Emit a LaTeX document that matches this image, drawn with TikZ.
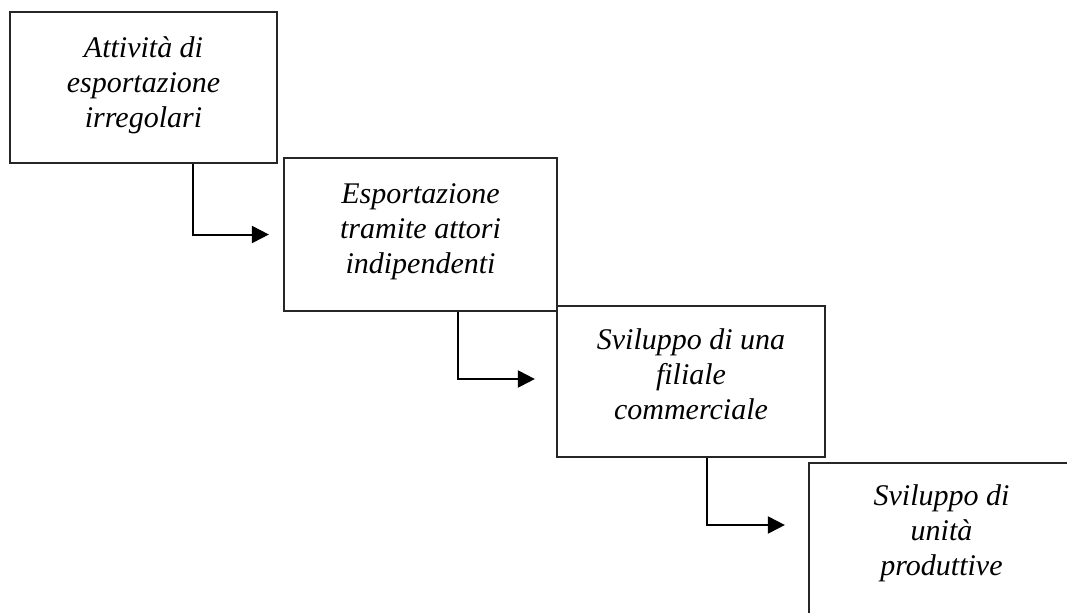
\documentclass[tikz,border=0pt]{standalone}
\usepackage{fontspec}
\setmainfont{Liberation Serif}
\usetikzlibrary{arrows.meta}
\tikzset{
    stage/.style={
        rectangle,
        draw=black!85,
        line width=1.1pt,
        minimum width=133.5pt,
        minimum height=75.5pt,
        inner sep=0pt
    },
    caption/.style={
        align=center,
        font=\fontsize{15}{17.5}\selectfont\itshape
    },
    arrow/.style={
        line width=1pt,-{Triangle[length=8.5pt,width=8.5pt]}
    }
}

\begin{document}
\begin{tikzpicture}[x=0.5pt,y=-0.5pt]

\clip (0,0) rectangle (1067,612);
\fill [white] (0,0) rectangle (1067,612);

\node (stage1) [stage] at (143.5,87.5) {};
\node (stage2) [stage, minimum width=136.5pt, minimum height=76.5pt] at (420.5,234.5) {};
\node (stage3) [stage, minimum width=134pt] at (691,381.5) {};
\node (stage4) [stage, minimum width=132.5pt] at (941.5,538.5) {};

\node (text1) [caption] at ([yshift=1pt]stage1.center) {Attività di\\esportazione\\irregolari};
\node (text2) [caption] at ([yshift=1.5pt]stage2.center) {Esportazione\\tramite attori\\indipendenti};
\node (text3) [caption] at ([yshift=3.5pt]stage3.center) {Sviluppo di una\\filiale\\commerciale};
\node (text4) [caption] at ([yshift=2.5pt]stage4.center) {Sviluppo di\\unità\\produttive};

\draw [arrow] ([xshift=24.75pt]stage1.south) |- ([xshift=-7pt]stage2.west);
\draw [arrow] ([xshift=18.75pt]stage2.south) |- ([xshift=-10.5pt,yshift=1.25pt]stage3.west);
\draw [arrow] ([xshift=8pt]stage3.south) |- ([xshift=-11.5pt,yshift=6.75pt]stage4.west);

\end{tikzpicture}
\end{document}
